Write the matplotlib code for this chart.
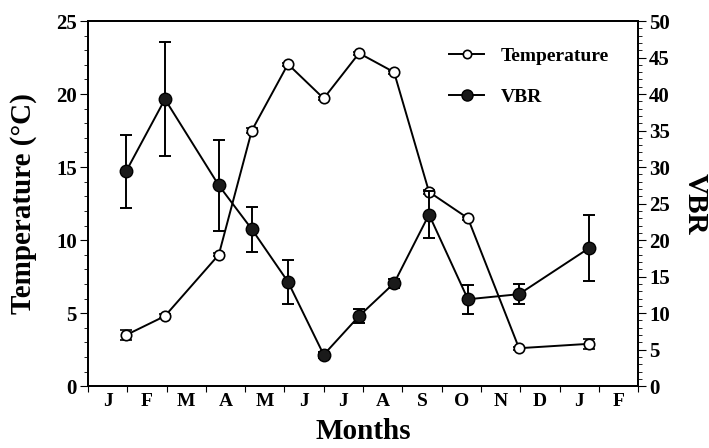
import numpy as np
import matplotlib.pyplot as plt
from matplotlib.lines import Line2D
from matplotlib.ticker import MultipleLocator

plt.rcParams['font.family'] = ['Liberation Serif', 'DejaVu Serif']
plt.rcParams['font.weight'] = 'bold'

# month labels sit between integer ticks
months = ["J", "F", "M", "A", "M", "J", "J", "A", "S", "O", "N", "D", "J", "F"]

# sampling dates (in months from start of January)
temp_x = [0.97, 1.96, 3.33, 4.17, 5.09, 6.0, 6.9, 7.79, 8.68, 9.67, 10.97, 12.75]
temp = [3.5, 4.8, 9.0, 17.5, 22.05, 19.7, 22.8, 21.5, 13.3, 11.5, 2.6, 2.9]
temp_err = [0.35, 0.15, 0.1, 0.15, 0.1, 0.1, 0.1, 0.1, 0.15, 0.1, 0.1, 0.35]

vbr_x = [0.97, 1.96, 3.33, 4.17, 5.09, 6.0, 6.9, 7.79, 8.68, 9.67, 10.97, 12.75]
vbr = [29.4, 39.3, 27.5, 21.5, 14.3, 4.3, 9.6, 14.1, 23.5, 11.9, 12.6, 18.9]
vbr_err = [5.0, 7.8, 6.2, 3.1, 3.0, 0.4, 1.0, 0.6, 3.2, 2.0, 1.4, 4.5]

fig, ax = plt.subplots(figsize=(7.09, 4.48), dpi=100)
fig.subplots_adjust(left=0.124, right=0.9, top=0.953, bottom=0.138)
ax2 = ax.twinx()

ax.errorbar(temp_x, temp, yerr=temp_err, color="black", lw=1.4,
            marker="o", ms=7.5, mfc="white", mec="black", mew=1.2,
            capsize=4, elinewidth=1.4, capthick=1.4, zorder=3)
ax2.errorbar(vbr_x, vbr, yerr=vbr_err, color="black", lw=1.4,
             marker="o", ms=9, mfc="#1a1a1a", mec="black",
             capsize=4.5, elinewidth=1.4, capthick=1.4, zorder=3)

ax.set_xlim(0, 14)
ax.set_ylim(0, 25)
ax2.set_ylim(0, 50)

ax.set_xticks(np.arange(0, 15))
ax.set_xticklabels([])
ax.set_xticks(np.arange(0.5, 14, 1), minor=True)
ax.set_xticklabels(months, minor=True)
ax.tick_params(axis="x", which="minor", length=0, labelsize=14, pad=5)
ax.tick_params(axis="x", which="major", length=4, direction="out")

ax.yaxis.set_major_locator(MultipleLocator(5))
ax.yaxis.set_minor_locator(MultipleLocator(1))
ax2.yaxis.set_major_locator(MultipleLocator(5))
ax2.yaxis.set_minor_locator(MultipleLocator(1))
ax.tick_params(axis="y", which="major", length=6, labelsize=15, pad=2)
ax.tick_params(axis="y", which="minor", length=3)
ax2.tick_params(axis="y", which="major", length=6, labelsize=15, pad=2)
ax2.tick_params(axis="y", which="minor", length=3)

for a in (ax, ax2):
    for s in a.spines.values():
        s.set_linewidth(1.3)

ax.set_xlabel("Months", fontsize=21, fontweight="bold", labelpad=6)
ax.set_ylabel("Temperature (\u00b0C)", fontsize=21, fontweight="bold", labelpad=14)
ax2.set_ylabel("VBR", fontsize=21, fontweight="bold", rotation=270, labelpad=28)

h_temp = Line2D([], [], color="black", lw=1.4, marker="o", ms=6,
                mfc="white", mec="black", mew=1.2)
h_vbr = Line2D([], [], color="black", lw=1.4, marker="o", ms=8,
               mfc="#1a1a1a", mec="black")
ax.legend([h_temp, h_vbr], ["Temperature", "VBR"], loc="upper left",
          bbox_to_anchor=(0.625, 0.975), frameon=False, fontsize=14,
          handlelength=1.8, labelspacing=1.2, handletextpad=0.85)

plt.savefig("out.png", dpi=100)
